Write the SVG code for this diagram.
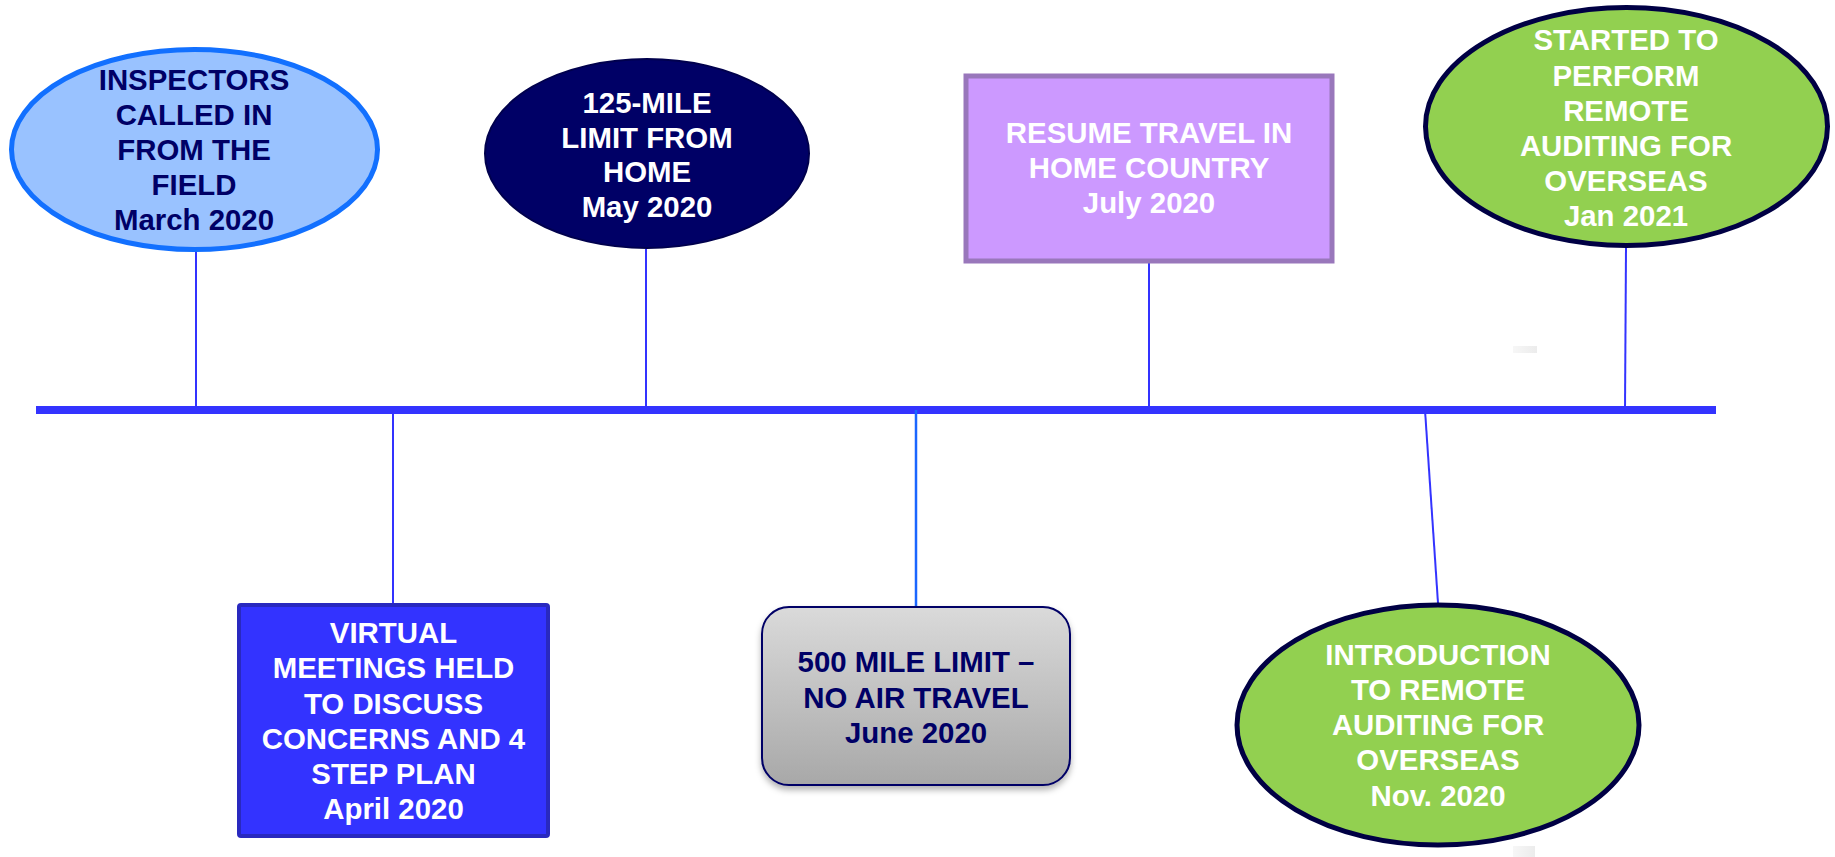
<svg xmlns="http://www.w3.org/2000/svg" width="1835" height="857" viewBox="0 0 1835 857">
  <style>
    .lbl { font-family: "Liberation Sans", Arial, sans-serif; font-weight: bold; font-size: 29.4px; text-anchor: middle; }
    .dark { fill: #000066; }
    .light { fill: #ffffff; }
    .stem { stroke: #3333ff; stroke-width: 2; fill: none; }
  </style>
  <defs>
    <linearGradient id="greyFill" x1="0" y1="0" x2="0" y2="1">
      <stop offset="0" stop-color="#dadada"/>
      <stop offset="1" stop-color="#a8a8a8"/>
    </linearGradient>
    <filter id="shadow" x="-10%" y="-10%" width="120%" height="130%">
      <feDropShadow dx="0" dy="4" stdDeviation="3" flood-color="#000000" flood-opacity="0.3"/>
    </filter>
    <linearGradient id="smudge" x1="0" y1="0" x2="1" y2="0">
      <stop offset="0" stop-color="#f0f0f0"/>
      <stop offset="1" stop-color="#dcdcdc"/>
    </linearGradient>
  </defs>

  <rect width="1835" height="857" fill="#ffffff"/>

  <!-- timeline axis and stems -->
  <g id="connectors">
    <line x1="36" y1="410" x2="1716" y2="410" stroke="#3333ff" stroke-width="8"/>
    <line class="stem" x1="196" y1="252" x2="196" y2="410"/>
    <line class="stem" x1="646" y1="249" x2="646" y2="410"/>
    <line class="stem" x1="1149" y1="262" x2="1149" y2="410"/>
    <line class="stem" x1="1626" y1="248" x2="1625" y2="410"/>
    <line class="stem" x1="393" y1="410" x2="393" y2="603"/>
    <line x1="916" y1="410" x2="916" y2="606" stroke="#1a66ff" stroke-width="2.5"/>
    <line class="stem" x1="1425" y1="410" x2="1438" y2="603"/>
  </g>

  <g id="inspectors">
    <ellipse cx="194.5" cy="149.5" rx="183" ry="100" fill="#99c2ff" stroke="#1270ff" stroke-width="5"/>
    <text class="lbl dark" x="194" y="90">INSPECTORS</text>
    <text class="lbl dark" x="194" y="125">CALLED IN</text>
    <text class="lbl dark" x="194" y="160">FROM THE</text>
    <text class="lbl dark" x="194" y="195">FIELD</text>
    <text class="lbl dark" x="194" y="230">March 2020</text>
  </g>

  <g id="limit125">
    <ellipse cx="647" cy="153.5" rx="162" ry="94.5" fill="#000066" stroke="#00004d" stroke-width="2"/>
    <text class="lbl light" x="647" y="113">125-MILE</text>
    <text class="lbl light" x="647" y="148">LIMIT FROM</text>
    <text class="lbl light" x="647" y="182">HOME</text>
    <text class="lbl light" x="647" y="217">May 2020</text>
  </g>

  <g id="resumeTravel">
    <rect x="966" y="76" width="366" height="185" fill="#cc99ff" stroke="#9977bb" stroke-width="5"/>
    <text class="lbl light" x="1149" y="143">RESUME TRAVEL IN</text>
    <text class="lbl light" x="1149" y="178">HOME COUNTRY</text>
    <text class="lbl light" x="1149" y="213">July 2020</text>
  </g>

  <g id="remoteStarted">
    <ellipse cx="1626.5" cy="126.5" rx="201" ry="119" fill="#92d050" stroke="#000044" stroke-width="5"/>
    <text class="lbl light" x="1626" y="50">STARTED TO</text>
    <text class="lbl light" x="1626" y="86">PERFORM</text>
    <text class="lbl light" x="1626" y="121">REMOTE</text>
    <text class="lbl light" x="1626" y="156">AUDITING FOR</text>
    <text class="lbl light" x="1626" y="191">OVERSEAS</text>
    <text class="lbl light" x="1626" y="226">Jan 2021</text>
  </g>

  <g id="virtualMeetings">
    <rect x="239" y="605" width="309" height="231" rx="2" fill="#3333ff" stroke="#2929bf" stroke-width="4"/>
    <text class="lbl light" x="393.5" y="643">VIRTUAL</text>
    <text class="lbl light" x="393.5" y="678">MEETINGS HELD</text>
    <text class="lbl light" x="393.5" y="714">TO DISCUSS</text>
    <text class="lbl light" x="393.5" y="749">CONCERNS AND 4</text>
    <text class="lbl light" x="393.5" y="784">STEP PLAN</text>
    <text class="lbl light" x="393.5" y="819">April 2020</text>
  </g>

  <g id="limit500">
    <rect x="762" y="607" width="308" height="178" rx="27" fill="url(#greyFill)" stroke="#000066" stroke-width="2" filter="url(#shadow)"/>
    <text class="lbl dark" x="916" y="672">500 MILE LIMIT –</text>
    <text class="lbl dark" x="916" y="708">NO AIR TRAVEL</text>
    <text class="lbl dark" x="916" y="743">June 2020</text>
  </g>

  <g id="remoteIntro">
    <ellipse cx="1438" cy="725" rx="201" ry="120" fill="#92d050" stroke="#000044" stroke-width="5"/>
    <text class="lbl light" x="1438" y="665">INTRODUCTION</text>
    <text class="lbl light" x="1438" y="700">TO REMOTE</text>
    <text class="lbl light" x="1438" y="735">AUDITING FOR</text>
    <text class="lbl light" x="1438" y="770">OVERSEAS</text>
    <text class="lbl light" x="1438" y="806">Nov. 2020</text>
  </g>

  <!-- faint grey marks -->
  <rect x="1513" y="346" width="24" height="7" fill="url(#smudge)" opacity="0.55"/>
  <rect x="1513" y="846" width="22" height="11" fill="url(#smudge)" opacity="0.55"/>
</svg>
